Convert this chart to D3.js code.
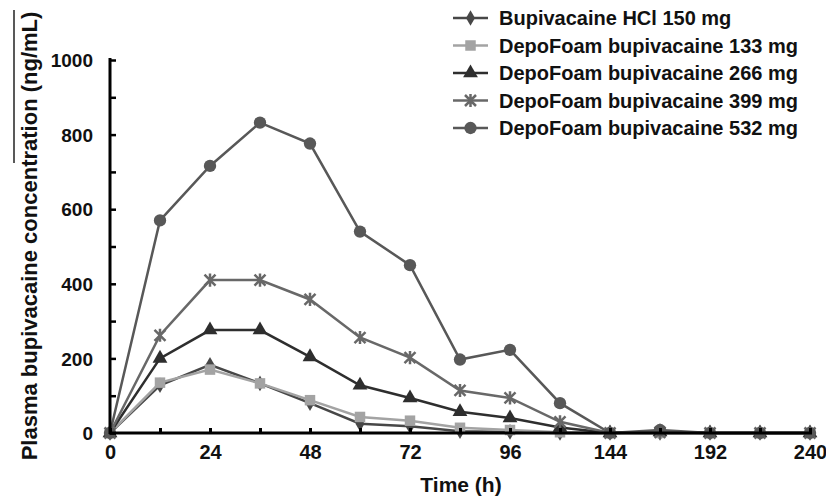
<!DOCTYPE html>
<html lang="en">
<head>
    <meta charset="UTF-8">
    <title>Plasma bupivacaine</title>
    <script src="https://d3js.org/d3.v7.min.js"></script>
    <style>
        body { margin: 0; background: white; }
        text { font-family: "Liberation Sans", Arial, sans-serif; font-weight: bold; fill: #111; }
        .line { fill: none; stroke-width: 2.5; }
    </style>
</head>
<body>
<script>
    const width  = 826;
    const height = 496;

    const times = [0, 12, 24, 36, 48, 60, 72, 84, 96, 120, 144, 168, 192, 216, 240];
    const xTickLabels = [0, 24, 48, 72, 96, 144, 192, 240];
    const yTicks = [0, 200, 400, 600, 800, 1000];

    const hcl150  = [0, 128, 183, 133, 80, 25, 18, 5, 3, 0, 0, 0, 0, 0, 0];
    const depo133 = [0, 135, 170, 133, 88, 43, 33, 14, 8, 2, 0, 0, 0, 0, 0];
    const depo266 = [0, 200, 276, 276, 204, 128, 94, 57, 40, 15, 0, 3, 0, 0, 0];
    const depo399 = [0, 262, 410, 410, 358, 256, 202, 114, 94, 30, 0, 2, 0, 0, 0];
    const depo532 = [0, 570, 716, 832, 776, 540, 450, 197, 223, 80, 0, 8, 0, 0, 0];

    const seriesNames = [
        "Bupivacaine HCl 150 mg",
        "DepoFoam bupivacaine 133 mg",
        "DepoFoam bupivacaine 266 mg",
        "DepoFoam bupivacaine 399 mg",
        "DepoFoam bupivacaine 532 mg"
    ];
    const seriesValues = [hcl150, depo133, depo266, depo399, depo532];
    const colors  = ["#474747", "#a3a3a3", "#2e2e2e", "#686868", "#585858"];
    const markers = ["diamond", "square", "triangle", "star", "circle"];

    const x = d3.scalePoint().domain(times).range([110, 810]);
    const y = d3.scaleLinear().domain([0, 1000]).range([433, 60]);

    const svg = d3.select("body").append("svg").attr("width", width).attr("height", height);

    // markers
    function markerPath(type) {
        if (type === "diamond") return d3.symbol(d3.symbolDiamond, 70)();
        if (type === "square") return d3.symbol(d3.symbolSquare, 110)();
        if (type === "triangle") return d3.symbol(d3.symbolTriangle, 95)();
        if (type === "circle") return d3.symbol(d3.symbolCircle, 120)();
        const r = 5.5;   // star: X with vertical bar
        return `M${-r},${-r}L${r},${r}M${-r},${r}L${r},${-r}M0,${-r * 1.2}L0,${r * 1.2}`;
    }
    function drawMarker(g, type, color) {
        const p = g.append("path").attr("d", markerPath(type));
        if (type === "star") p.attr("fill", "none").attr("stroke", color).attr("stroke-width", 2.5);
        else p.attr("fill", color);
    }

    // lines
    const line = d3.line().x((d, i) => x(times[i])).y(d => y(d));

    seriesValues.forEach((vals, s) => {
        svg.append("path").attr("class", "line")
            .attr("d", line(vals))
            .attr("stroke", colors[s]);
    });
    seriesValues.forEach((vals, s) => {
        vals.forEach((v, i) => {
            const g = svg.append("g").attr("transform", `translate(${x(times[i])},${y(v)})`);
            drawMarker(g, markers[s], colors[s]);
        });
    });

    // y axis
    const yAxis = d3.axisLeft(y).tickValues(d3.range(0, 1001, 100)).tickSize(-6)
        .tickFormat(d => yTicks.includes(d) ? d : "");
    const gy = svg.append("g").attr("transform", "translate(110,0)").call(yAxis);
    gy.select(".domain").remove();
    gy.selectAll(".tick line").attr("stroke", "#000").attr("stroke-width", 2.5);
    gy.selectAll(".tick text").attr("x", -17).attr("dy", "0.35em").style("font-size", "19px").style("font-family", null);
    svg.append("line").attr("x1", 110).attr("x2", 110).attr("y1", 58).attr("y2", 434)
        .attr("stroke", "#000").attr("stroke-width", 3);

    // x axis
    const xAxis = d3.axisBottom(x).tickSize(-5)
        .tickFormat(d => xTickLabels.includes(d) ? d : "");
    const gx = svg.append("g").attr("transform", "translate(0,433)").call(xAxis);
    gx.select(".domain").remove();
    gx.selectAll(".tick line").attr("stroke", "#000").attr("stroke-width", 3);
    gx.selectAll(".tick text").attr("y", 26).attr("dy", null).style("font-size", "20px").style("font-family", null);
    svg.append("line").attr("x1", 109).attr("x2", 812).attr("y1", 433).attr("y2", 433)
        .attr("stroke", "#000").attr("stroke-width", 3);

    // axis titles
    svg.append("text").attr("x", 461).attr("y", 492).attr("text-anchor", "middle")
        .style("font-size", "21px").text("Time (h)");
    svg.append("text").attr("transform", "translate(37,236) rotate(-90)").attr("text-anchor", "middle")
        .style("font-size", "22px").text("Plasma bupivacaine concentration (ng/mL)");
    svg.append("line").attr("x1", 14).attr("x2", 14).attr("y1", 10).attr("y2", 163)
        .attr("stroke", "#222").attr("stroke-width", 1.5);

    // legend
    const legend = svg.append("g");
    seriesNames.forEach((name, s) => {
        const ly = 18 + s * 27.5;
        const g = legend.append("g").attr("transform", `translate(453,${ly})`);
        g.append("line").attr("x1", 0).attr("x2", 35).attr("stroke", colors[s]).attr("stroke-width", 2.5);
        drawMarker(g.append("g").attr("transform", "translate(17.5,0)"), markers[s], colors[s]);
        g.append("text").attr("x", 46).attr("dy", "0.35em").style("font-size", "20px").text(name);
    });
</script>
</body>
</html>
